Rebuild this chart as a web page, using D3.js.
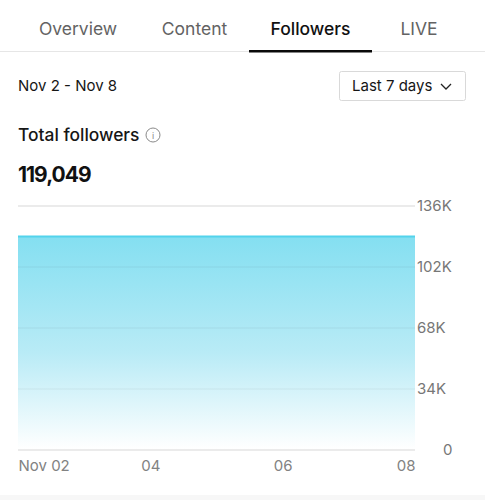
<!DOCTYPE html>
<html>
<head>
<meta charset="utf-8">
<script src="https://cdn.jsdelivr.net/npm/d3@7"></script>
<style>
  html, body { margin: 0; padding: 0; background: #fff; }
  svg { display: block; font-family: Inter, "Noto Sans", sans-serif; }
</style>
</head>
<body>
<script>
const tabs = ["Overview", "Content", "Followers", "LIVE"];
const activeTab = "Followers";
const days = ["02", "03", "04", "05", "06", "07", "08"];
const followers = [119049, 119049, 119049, 119049, 119049, 119049, 119049];
const yTicks = [0, 34000, 68000, 102000, 136000];
const xTicks = ["02", "04", "06", "08"];

const w = 485, h = 500;
const margin = { top: 206, right: 70, bottom: 50, left: 18 };

const svg = d3.select("body").append("svg").
attr("width", w).
attr("height", h);

// tab bar
const tabX = { "Overview": 78, "Content": 194.5, "Followers": 310.5, "LIVE": 419 };
svg.selectAll(".tab").
data(tabs).
enter().
append("text").
attr("class", "tab").
attr("x", d => tabX[d]).
attr("y", 35).
attr("text-anchor", "middle").
attr("font-size", 17.5).
attr("font-weight", d => d === activeTab ? 500 : 400).
attr("fill", d => d === activeTab ? "#111" : "#636363").
text(d => d);

svg.append("line").attr("x1", 0).attr("x2", w).attr("y1", 51.5).attr("y2", 51.5).attr("stroke", "#e6e6e6");
svg.append("rect").attr("x", 249).attr("y", 50).attr("width", 123).attr("height", 2.5).attr("fill", "#0a0a0a");

// date range and dropdown
svg.append("text").attr("x", 18).attr("y", 91).attr("font-size", 15).attr("fill", "#161616").text("Nov 2 - Nov 8");
svg.append("rect").attr("x", 339.5).attr("y", 71.5).attr("width", 126).attr("height", 29).attr("rx", 2).
attr("fill", "#fff").attr("stroke", "#d9d9d9");
svg.append("text").attr("x", 352).attr("y", 91).attr("font-size", 15).attr("fill", "#161616").text("Last 7 days");
svg.append("path").attr("d", "M441 84l5 5l5 -5").attr("fill", "none").attr("stroke", "#222").attr("stroke-width", 1.3);

// heading
svg.append("text").attr("x", 18).attr("y", 141).attr("font-size", 17.4).attr("font-weight", 500).attr("fill", "#161616").text("Total followers");
svg.append("circle").attr("cx", 153).attr("cy", 135).attr("r", 7).attr("fill", "none").attr("stroke", "#8a8a8a");
svg.append("text").attr("x", 153).attr("y", 139).attr("text-anchor", "middle").attr("font-size", 9).attr("fill", "#8a8a8a").text("i");
svg.append("text").attr("x", 18).attr("y", 182).attr("font-size", 21).attr("font-weight", 700).attr("letter-spacing", -1).attr("fill", "#111").text(d3.format(",")(followers[followers.length - 1]));

// chart
const x = d3.scalePoint().
domain(days).
range([margin.left, w - margin.right]);

const y = d3.scaleLinear().
domain([0, 136000]).
range([h - margin.bottom, margin.top]);

const defs = svg.append("defs");
const grad = defs.append("linearGradient").
attr("id", "fade").
attr("x1", 0).attr("x2", 0).attr("y1", 0).attr("y2", 1);
grad.append("stop").attr("offset", "0%").attr("stop-color", "#84dff1");
grad.append("stop").attr("offset", "55%").attr("stop-color", "#b9ebf6");
grad.append("stop").attr("offset", "100%").attr("stop-color", "#ffffff");

const yAxis = d3.axisRight(y).
tickValues(yTicks).
tickSize(0).
tickPadding(2).
tickFormat(d => d === 0 ? "0" : d / 1000 + "K");

const yG = svg.append("g").
attr("transform", "translate(" + (w - margin.right) + ",0)").
call(yAxis);
yG.select(".domain").remove();
yG.selectAll("text").
attr("font-size", 15).
attr("font-family", "Inter, sans-serif").
attr("fill", "#777").
attr("x", d => d === 0 ? 28 : 2);

svg.selectAll(".grid").
data(yTicks.filter(d => d === 136000 || d === 0)).
enter().
append("line").
attr("class", "grid").
attr("x1", margin.left).
attr("x2", w - margin.right).
attr("y1", d => y(d)).
attr("y2", d => y(d)).
attr("stroke", "#e5e5e5").
attr("stroke-width", 1.5);

const area = d3.area().
x((d, i) => x(days[i])).
y0(y(0) - 1).
y1(d => y(d));

svg.append("path").
datum(followers).
attr("d", area).
attr("fill", "url(#fade)");

// inner grid lines show faintly through the fill
svg.selectAll(".grid-inner").
data(yTicks.filter(d => d > 0 && d < 136000)).
enter().
append("line").
attr("class", "grid-inner").
attr("x1", margin.left).
attr("x2", w - margin.right).
attr("y1", d => y(d)).
attr("y2", d => y(d)).
attr("stroke", "#000").
attr("stroke-opacity", 0.04).
attr("stroke-width", 1.5);

const line = d3.line().
x((d, i) => x(days[i])).
y(d => y(d));

svg.append("path").
datum(followers).
attr("d", line).
attr("fill", "none").
attr("stroke", "#53d3ec").
attr("stroke-width", 2);

const xAxis = d3.axisBottom(x).
tickValues(xTicks).
tickSize(0).
tickPadding(10).
tickFormat(d => d === "02" ? "Nov 02" : d);

const xG = svg.append("g").
attr("transform", "translate(0," + (h - margin.bottom) + ")").
call(xAxis);
xG.select(".domain").remove();
xG.selectAll("text").
attr("font-size", 15).
attr("font-family", "Inter, sans-serif").
attr("fill", "#828282").
attr("text-anchor", d => d === "02" ? "start" : d === "08" ? "end" : "middle");

// footer band
svg.append("rect").attr("x", 0).attr("y", 495).attr("width", w).attr("height", 5).attr("fill", "#f7f7f7");
</script>
</body>
</html>
